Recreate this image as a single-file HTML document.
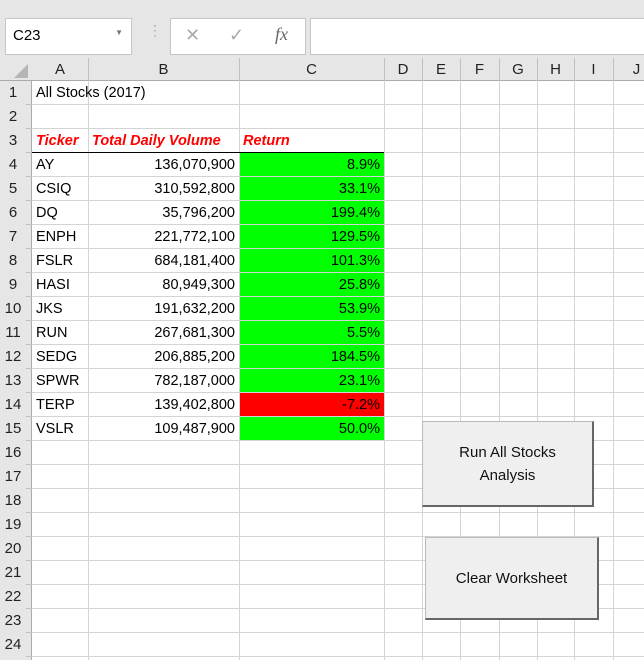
<!DOCTYPE html>
<html><head><meta charset="utf-8">
<style>
*{box-sizing:border-box;margin:0;padding:0}
body{width:644px;height:660px;overflow:hidden;background:#fff;font-family:"Liberation Sans",sans-serif;position:relative}
.abs{position:absolute}
.top{left:0;top:0;width:644px;height:58px;background:#e6e6e6}
.box{background:#fff;border:1px solid #c6c6c6}
.hdr{background:#e6e6e6;color:#222;font-size:15px;text-align:center;line-height:23px}
.cell{font-size:14.5px;line-height:24px;white-space:nowrap;color:#000}
.btn{background:#efefef;border:1px solid #bbb;border-right:2px solid #666;border-bottom:2px solid #666;font-size:15px;color:#111;display:flex;align-items:center;justify-content:center;text-align:center;line-height:23px}
</style></head><body>
<div class="abs top"></div>
<div class="abs box" style="left:5px;top:18px;width:127px;height:37px;font-size:15px;padding:8px 0 0 7px">C23<span style="position:absolute;right:8px;top:9px;font-size:8px;color:#777">▼</span></div>
<div class="abs" style="left:148px;top:22px;color:#aaa;font-size:14px">⋮</div>
<div class="abs box" style="left:170px;top:18px;width:136px;height:37px;color:#aaa;font-size:18px">
<span class="abs" style="left:14px;top:6px">✕</span>
<span class="abs" style="left:58px;top:6px">✓</span>
<span class="abs" style="left:104px;top:5px;font-family:'Liberation Serif',serif;font-style:italic;color:#666">fx</span></div>
<div class="abs box" style="left:310px;top:18px;width:340px;height:37px"></div>
<div id="grid"></div>
<div class="abs btn" style="left:422px;top:421px;width:172px;height:86px">Run All Stocks<br>Analysis</div>
<div class="abs btn" style="left:425px;top:537px;width:174px;height:83px">Clear Worksheet</div>
<script>
const tickers=["AY","CSIQ","DQ","ENPH","FSLR","HASI","JKS","RUN","SEDG","SPWR","TERP","VSLR"];
const volumes=["136,070,900","310,592,800","35,796,200","221,772,100","684,181,400","80,949,300","191,632,200","267,681,300","206,885,200","782,187,000","139,402,800","109,487,900"];
const returns=[8.9,33.1,199.4,129.5,101.3,25.8,53.9,5.5,184.5,23.1,-7.2,50.0];
const colNames=["A","B","C","D","E","F","G","H","I","J"];
const colX=[32,88,239,384,422,460,499,537,574,613,660];
const rowTop=81,rowH=24,hdrTop=58,nRows=24;
const g=document.getElementById('grid');
function mk(style,cls,txt){const d=document.createElement('div');d.className='abs '+(cls||'');d.setAttribute('style',style);if(txt!==undefined)d.textContent=txt;g.appendChild(d);return d;}
// header row & row header bg
let e=mk(`left:0;top:${hdrTop}px;width:644px;height:${rowTop-hdrTop}px;background:#e6e6e6;border-bottom:1px solid #ababab`);


e=mk(`left:0;top:${rowTop}px;width:32px;height:${660-rowTop}px;background:#e6e6e6;border-right:1px solid #ababab`);


e=mk(`left:14px;top:64px;width:0;height:0;border-left:14px solid transparent;border-bottom:14px solid #b5b5b5`);


// fills
for(let i=0;i<returns.length;i++){
 e=mk(`left:${colX[2]}px;top:${rowTop+(i+3)*rowH}px;width:${colX[3]-colX[2]}px;height:${rowH}px;background:${returns[i]>=0?'#00ff00':'#ff0000'}`);
 
 
}
// gridlines
for(let c=1;c<colX.length;c++){
 e=mk(`left:${colX[c]}px;top:${rowTop}px;width:1px;height:${660-rowTop}px;background:#d4d4d4`);
 
 
 e=mk(`left:${colX[c]}px;top:${hdrTop}px;width:1px;height:${rowTop-hdrTop}px;background:#c0c0c0`);
 
 
}
for(let r=1;r<=nRows;r++){
 const y=rowTop+r*rowH-1;
 e=mk(`left:32px;top:${y}px;width:612px;height:1px;background:#d4d4d4`);
 
 
 e=mk(`left:0;top:${y}px;width:32px;height:1px;background:#c0c0c0`);
 
 
 e=mk(`left:0;top:${rowTop+(r-1)*rowH}px;width:26px;height:${rowH}px;text-align:center`,'hdr',String(r));
 
 
}
for(let c=0;c<colNames.length;c++){
 e=mk(`left:${colX[c]}px;top:${hdrTop}px;width:${colX[c+1]-colX[c]}px;height:${rowTop-hdrTop}px;background:transparent`,'hdr',colNames[c]);
 
 
}
// row3 bottom border
e=mk(`left:32px;top:${rowTop+3*rowH-1}px;width:${colX[3]-32}px;height:1px;background:#000`);


// texts
e=mk(`left:36px;top:${rowTop}px`,'cell','All Stocks (2017)');


const heads=["Ticker","Total Daily Volume","Return"];
for(let i=0;i<3;i++){
 e=mk(`left:${colX[i]+4}px;top:${rowTop+2*rowH}px;color:#ff0000;font-weight:bold;font-style:italic`,'cell',heads[i]);
 
 
}
for(let i=0;i<tickers.length;i++){
 const y=rowTop+(i+3)*rowH;
 e=mk(`left:36px;top:${y}px`,'cell',tickers[i]);
 
 
 e=mk(`left:${colX[1]}px;top:${y}px;width:${colX[2]-colX[1]-4}px;text-align:right`,'cell',volumes[i]);
 
 
 e=mk(`left:${colX[2]}px;top:${y}px;width:${colX[3]-colX[2]-4}px;text-align:right`,'cell',returns[i].toFixed(1)+'%');
 
 
}
</script>
</body></html>
